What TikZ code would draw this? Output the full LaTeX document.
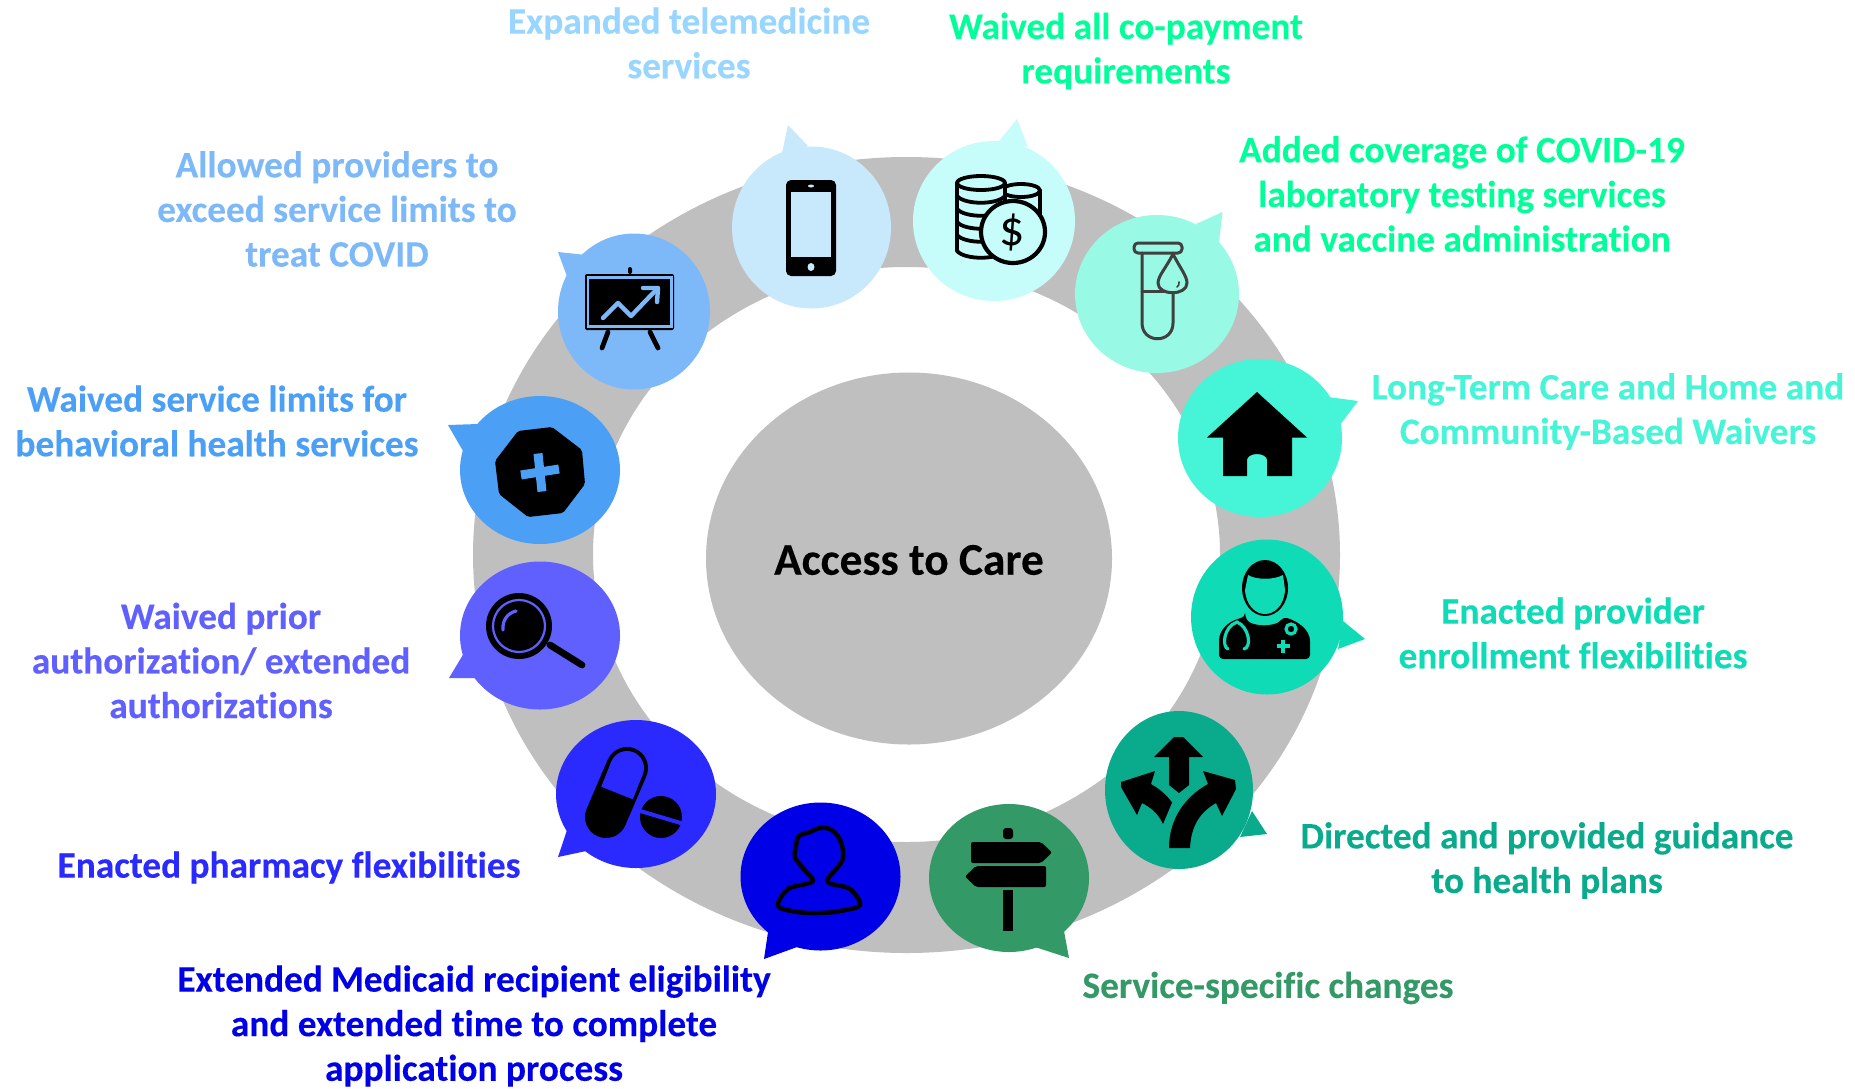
\documentclass[tikz,border=0pt]{standalone}
\usepackage{fontspec}
\setmainfont{Carlito}[Ligatures=NoCommon,BoldFeatures={FakeBold=0.2}]
\usetikzlibrary{shapes.geometric}
\definecolor{ringc}{HTML}{BFBFBF}
\definecolor{cPhone}{HTML}{C8E8FB}
\definecolor{cCoin}{HTML}{C6FDFB}
\definecolor{cTube}{HTML}{98F9E4}
\definecolor{cChart}{HTML}{7DB9F8}
\definecolor{cHouse}{HTML}{46F5D7}
\definecolor{cDoc}{HTML}{0FDCB6}
\definecolor{cArrow}{HTML}{0AAB8C}
\definecolor{cSign}{HTML}{339966}
\definecolor{cPerson}{HTML}{0000E6}
\definecolor{cPill}{HTML}{2A2AFF}
\definecolor{cMag}{HTML}{6060FF}
\definecolor{cPlus}{HTML}{4BA0F5}
\definecolor{tPhone}{HTML}{99D6FF}
\definecolor{tCoin}{HTML}{00FF99}
\definecolor{tTube}{HTML}{00FF99}
\definecolor{tubeink}{HTML}{404040}
\newcommand{\bub}[7]{%
  \fill[#1] (#2) ellipse [x radius=#3, y radius=#4];
  \fill[#1] (#5) -- (#6) -- (#7) -- cycle;
}
\tikzset{
  lab/.style={font=\bfseries\fontsize{18.65}{22.3}\selectfont, align=center, inner sep=0pt},
  inkline/.style={line width=1.9pt, line cap=round, line join=round},
}
\begin{document}
\begin{tikzpicture}[x=0.5pt,y=-0.5pt]
\useasboundingbox (0,0) rectangle (1855,1088);
\fill[white] (0,0) rectangle (1855,1088);
% ring and centre
\fill[ringc,even odd rule] (906.5,555) ellipse [x radius=433.5, y radius=398]
  (906.5,554.5) ellipse [x radius=313.5, y radius=287.5];
\node[ellipse,fill=ringc,minimum width=203pt,minimum height=186pt,inner sep=0pt] (centre) at (909,558.5) {};
\node[font=\bfseries\fontsize{22.7}{26}\selectfont,inner sep=0pt] (centretext) at (909,560) {Access to Care};
% bubbles
\bub{cPhone}{811.5,227.5}{79.5}{81}{788,125}{782,153}{808,146}
\bub{cCoin}{994,221}{81}{80}{1017,119}{999,141}{1028,147}
\bub{cTube}{1157,294}{82}{79}{1222.5,212}{1196,224}{1219,242}
\bub{cChart}{634,311.5}{76}{78}{558,252}{586,255}{568,279}
\bub{cHouse}{1260,438}{82}{79}{1358,401}{1328,397}{1340,425}
\bub{cDoc}{1267,617}{76}{77.5}{1365,639}{1343,621}{1338,649}
\bub{cArrow}{1179,790}{74}{79}{1267,834}{1252,811}{1240,837}
\bub{cSign}{1009,878}{80}{74}{1069,958}{1064,931}{1035,947}
\bub{cPerson}{820.5,876.5}{80}{74}{764,959}{768,932}{797,947}
\bub{cPill}{636,794}{80}{74}{558,857}{567,830}{586,851}
\bub{cMag}{540,635.5}{80}{74}{449,678}{464,653}{478,678}
\bub{cPlus}{540,470}{80}{74}{448,425}{478,424}{463,451}
% phone
\fill[black,rounded corners=2.5pt] (786,180) rectangle (836,276);
\fill[cPhone] (791,192) rectangle (831,257);
\fill[cPhone] (811,186) ellipse [x radius=3, y radius=1.5];
\fill[cPhone] (811,267) ellipse [x radius=3.5, y radius=4];
% coins
\begin{scope}[inkline,draw=black,fill=cCoin]
\draw[fill=cCoin] (1002,190.5) -- (1002,225) -- (1040,225) -- (1040,190.5);
\draw[fill=cCoin] (1021,190.5) ellipse [x radius=19, y radius=6.5];
\draw[fill=cCoin] (957,183) -- (957,251) .. controls (965,260) and (997,260) .. (1005,251) -- (1005,183);
\draw[fill=cCoin] (981,183) ellipse [x radius=24, y radius=7];
\draw (957,196) .. controls (965,205) and (997,205) .. (1005,196);
\draw (957,209) .. controls (965,218) and (997,218) .. (1005,209);
\draw (957,222) .. controls (965,231) and (997,231) .. (1005,222);
\draw (957,235) .. controls (965,244) and (997,244) .. (1005,235);
\draw[fill=cCoin,line width=2.1pt] (1013,232) ellipse [x radius=32, y radius=31];
\end{scope}
\node[font=\fontsize{25}{27}\selectfont,text=black,inner sep=0pt] (dollar) at (1012,232) {\$};
% test tube
\begin{scope}[line width=1.5pt,line cap=round,line join=round,draw=tubeink]
\draw[rounded corners=2pt] (1134,243) rectangle (1182,253);
\draw (1142,253) -- (1142,323) .. controls (1142,344) and (1173,344) .. (1173,323) -- (1173,253);
\draw (1142,291) -- (1173,291);
\draw[fill=cTube] (1173,254) .. controls (1166,268) and (1158,276) .. (1158,283) .. controls (1158,296) and (1187,296) .. (1187,283) .. controls (1187,276) and (1180,268) .. (1173,254) -- cycle;
\draw[line width=0.8pt] (1177,287) .. controls (1179,286) and (1179,284) .. (1179,282);
\end{scope}
% chart
\fill[black,rounded corners=1pt] (585,274) rectangle (674,330);
\draw[cChart,line width=1.3pt] (588,277.5) rectangle (671.5,326.5);
\fill[black,rounded corners=1pt] (628,267) rectangle (632,274);
\draw[black,line width=2.4pt,line cap=round] (608,332) -- (602,348);
\draw[black,line width=2.4pt,line cap=round] (650,332) -- (658,348);
\draw[cChart,line width=2.2pt,line cap=round,line join=round] (603,318) -- (618,303) -- (631,316) -- (657,289);
\draw[cChart,line width=2.2pt,line cap=round,line join=round] (643,288) -- (658,288) -- (657,302);
% house
\fill[black] (1257,392) -- (1307,437.5) -- (1292,437.5) -- (1292,476) -- (1267,476) -- (1267,460) arc[start angle=0,end angle=180,x radius=10,y radius=-6] -- (1247,476) -- (1223,476) -- (1223,437.5) -- (1207,437.5) -- cycle;
% doctor
\fill[black] (1265,588) ellipse [x radius=23, y radius=28];
\fill[cDoc] (1248,575) .. controls (1256,580) and (1274,580) .. (1283,575) -- (1285,590) .. controls (1284,606) and (1274,614) .. (1265,614) .. controls (1256,614) and (1246,606) .. (1245,590) -- cycle;
\fill[black,rounded corners=2pt] (1245,617) .. controls (1252,627) and (1276,627) .. (1283,617) .. controls (1298,621) and (1310,630) .. (1310,645) -- (1310,659) -- (1219,659) -- (1219,645) .. controls (1219,630) and (1228,621) .. (1245,617) -- cycle;
\draw[cDoc,line width=1.6pt,line cap=round] (1228,649) .. controls (1222,647) and (1223,627) .. (1237,622) .. controls (1249,627) and (1252,647) .. (1244,649);
\draw[cDoc,line width=1.6pt] (1291,629) circle [radius=5];
\draw[cDoc,line width=2pt] (1276.5,646) -- (1289.5,646) (1283,639.5) -- (1283,652.5);
% arrows
\fill[black] (1174,737) -- (1183,737) -- (1203,757) -- (1189,757) -- (1189,785) -- (1179,793) -- (1169,785) -- (1169,757) -- (1154,757) -- cycle;
\fill[black] (1121,782) -- (1155,771) -- (1151,784) .. controls (1158,788) and (1166,794) .. (1172,802.5) -- (1163,824) .. controls (1158,813) and (1150,807) .. (1142,803) -- (1137,815) -- (1121,787) -- cycle;
\fill[black] (1203,771) -- (1235,780) -- (1236,789) -- (1222,816) -- (1216,803) .. controls (1200,812) and (1191,826) .. (1190,848) -- (1169,848) .. controls (1169,818) and (1186,796) .. (1208,784) -- cycle;
% signpost
\fill[black,rounded corners=1.5pt] (1003,839) -- (1003,828) -- (1013,828) -- (1013,839) -- cycle;
\fill[black,rounded corners=1pt] (971,842) -- (1041,842) -- (1052,852.5) -- (1041,863) -- (971,863) -- cycle;
\fill[black,rounded corners=1pt] (965,876.5) -- (976,866) -- (1046,866) -- (1046,887) -- (976,887) -- cycle;
\fill[black] (1003,890) rectangle (1013,931);
% person
\draw[black,line width=2.2pt,line join=round] plot[smooth cycle,tension=0.55] coordinates {(813,880) (802,867) (795,857) (796,846) (799,836) (810,832) (820,828) (832,830) (841,842) (843,858) (837,868) (827,880) (832,884) (850,889) (860,905) (840,911) (820,913) (798,912) (778,906) (788,889) (806,884)};
% pills
\draw[black,line width=21pt,line cap=round] (627,768) -- (606,817);
\fill[cPill] (627,768) circle [radius=17];
\draw[cPill,line width=17pt] (627,768) -- (617,793);
\fill[black] (661,817) circle [radius=21];
\draw[cPill,line width=2pt] (637,810) -- (684,824);
% magnifier
\fill[black] (519,626) circle [radius=33];
\draw[cMag,line width=1.1pt] (519,626) circle [radius=26];
\draw[cMag,line width=1.6pt,line cap=round] (503,630) .. controls (502,620) and (508,613) .. (516,611);
\draw[black,line width=3.4pt,line cap=round] (550,645) -- (582,665);
% octagon plus
\fill[black,rounded corners=1pt] (518,431) -- (552,427) -- (582,450) -- (585,484) -- (563,513) -- (528,517) -- (499,494) -- (495,461) -- cycle;
\draw[cPlus,line width=4.5pt] (538,453.5) -- (542,491.5);
\draw[cPlus,line width=4.5pt] (521,475) -- (559,469);
% labels
\node[lab,text=tPhone] (t1) at (689,43) {Expanded telemedicine\\services};
\node[lab,text=tCoin] (t2) at (1126,51) {Waived all co-payment\\requirements};
\node[lab,text=tTube] (t3) at (1462,194) {Added coverage of COVID-19\\laboratory testing services\\and vaccine administration};
\node[lab,text=cHouse] (t4) at (1608,411.5) {Long-Term Care and Home and\\Community-Based Waivers};
\node[lab,text=cDoc] (t5) at (1573,633) {Enacted provider\\enrollment flexibilities};
\node[lab,text=cArrow] (t6) at (1547,860.5) {Directed and provided guidance\\to health plans};
\node[lab,text=cSign] (t7) at (1268,988) {Service-specific changes};
\node[lab,text=cPerson] (t8) at (474,1026) {Extended Medicaid recipient eligibility\\and extended time to complete\\application process};
\node[lab,text=cPill] (t9) at (289,867.5) {Enacted pharmacy flexibilities};
\node[lab,text=cMag] (t10) at (221,660.5) {Waived prior\\authorization/ extended\\authorizations};
\node[lab,text=cPlus] (t11) at (217,421) {Waived service limits for\\behavioral health services};
\node[lab,text=cChart] (t12) at (337,209) {Allowed providers to\\exceed service limits to\\treat COVID};
\end{tikzpicture}
\end{document}
